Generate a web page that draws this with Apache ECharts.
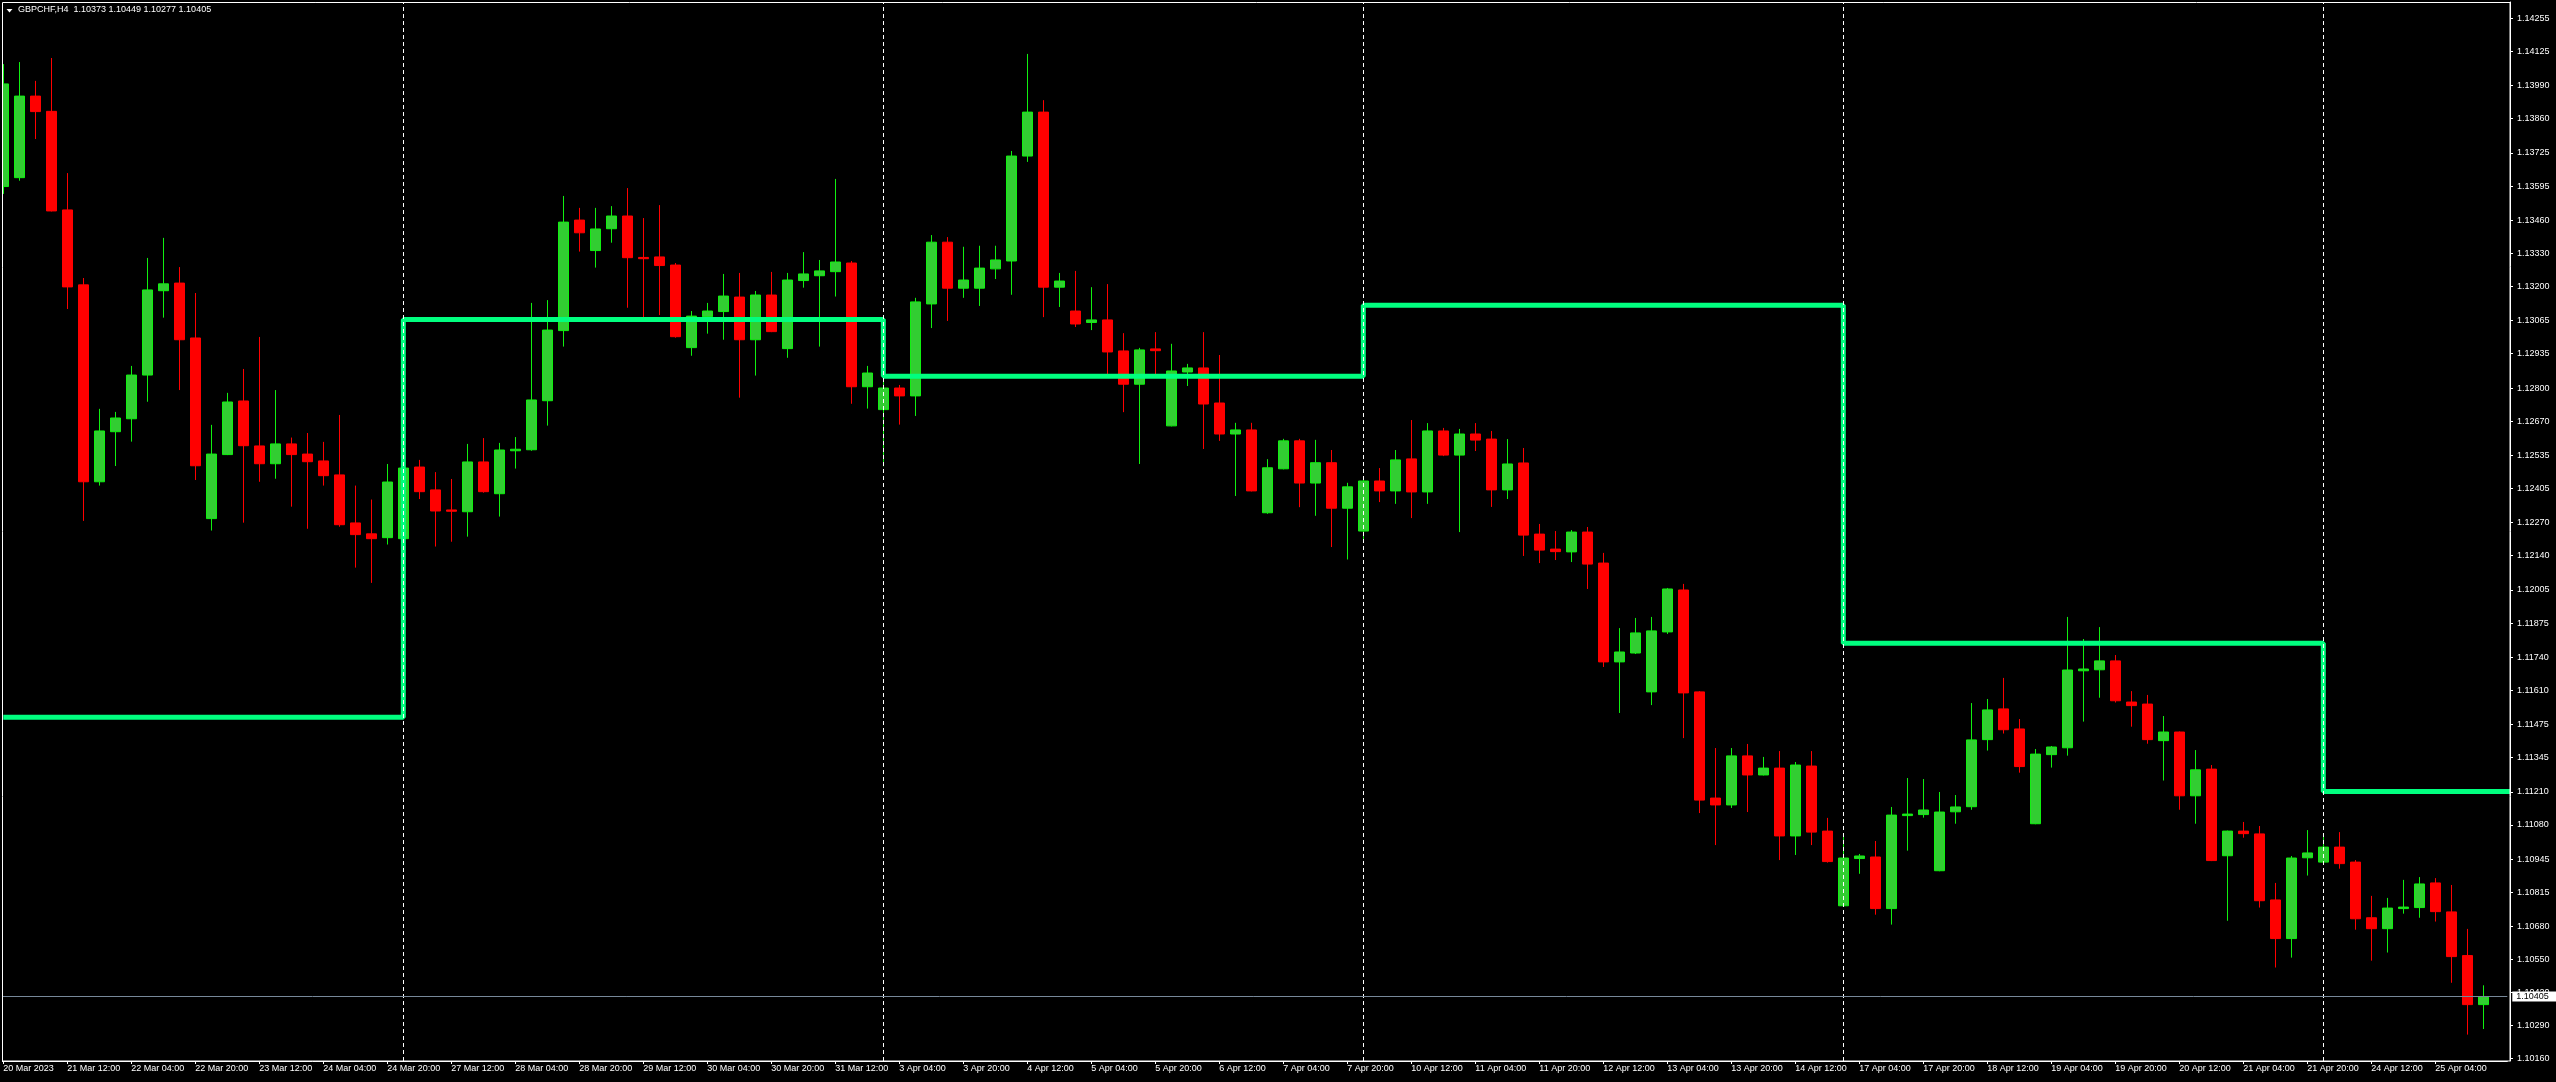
<!DOCTYPE html>
<html><head><meta charset="utf-8">
<script src="https://cdn.jsdelivr.net/npm/echarts@6/dist/echarts.min.js"></script>
<style>html,body{margin:0;padding:0;background:#000;}#c{width:2556px;height:1082px;}</style>
</head><body><div id="c"></div>
<script>
const symbolName = 'GBPCHF,H4';
const openV = [1.13593,1.13628,1.13949,1.13889,1.13501,1.13206,1.12431,1.12628,1.12679,1.12851,
1.13183,1.13213,1.12997,1.12286,1.12538,1.12749,1.12572,1.12502,1.12580,1.12540,
1.12513,1.12458,1.12269,1.12226,1.12211,1.12207,1.12489,1.12399,1.12320,1.12313,
1.12509,1.12384,1.12553,1.12557,1.12750,1.13026,1.13461,1.13341,1.13427,1.13477,
1.13314,1.13316,1.13284,1.12959,1.13081,1.13101,1.13158,1.12990,1.13166,1.12955,
1.13223,1.13242,1.13258,1.13292,1.12805,1.12715,1.12800,1.12769,1.13131,1.13374,
1.13193,1.13193,1.13269,1.13300,1.13713,1.13886,1.13197,1.13103,1.13058,1.13068,
1.12946,1.12815,1.12954,1.12651,1.12863,1.12879,1.12741,1.12619,1.12635,1.12309,
1.12482,1.12592,1.12426,1.12506,1.12327,1.12237,1.12434,1.12395,1.12521,1.12391,
1.12631,1.12536,1.12619,1.12599,1.12399,1.12505,1.12225,1.12166,1.12155,1.12233,
1.12111,1.11722,1.11757,1.11604,1.11840,1.12005,1.11604,1.11186,1.11159,1.11352,
1.11277,1.11304,1.11037,1.11312,1.11056,1.10762,1.10948,1.10954,1.10751,1.11117,
1.11121,1.10900,1.11132,1.11152,1.11416,1.11537,1.11458,1.11085,1.11357,1.11384,
1.11687,1.11691,1.11726,1.11564,1.11556,1.11412,1.11446,1.11195,1.11300,1.10959,
1.11056,1.11045,1.10785,1.10633,1.10951,1.10934,1.10993,1.10934,1.10715,1.10672,
1.10751,1.10755,1.10852,1.10738,1.10566,1.10373];
const highV = [1.14075,1.14083,1.14009,1.14099,1.13646,1.13233,1.12718,1.12706,1.12887,1.13312,
1.13391,1.13276,1.13174,1.12655,1.12781,1.12875,1.13001,1.12792,1.12605,1.12623,
1.12588,1.12694,1.12416,1.12361,1.12501,1.12548,1.12517,1.12469,1.12442,1.12580,
1.12603,1.12584,1.12607,1.13135,1.13146,1.13556,1.13509,1.13509,1.13516,1.13587,
1.13469,1.13520,1.13292,1.13103,1.13135,1.13249,1.13253,1.13182,1.13257,1.13253,
1.13335,1.13304,1.13623,1.13300,1.12887,1.12845,1.12812,1.13155,1.13402,1.13394,
1.13356,1.13360,1.13360,1.13733,1.14115,1.13933,1.13253,1.13261,1.13197,1.13209,
1.13016,1.12958,1.13020,1.12974,1.12895,1.13020,1.12930,1.12663,1.12663,1.12520,
1.12600,1.12600,1.12596,1.12556,1.12427,1.12451,1.12485,1.12556,1.12674,1.12662,
1.12643,1.12639,1.12662,1.12631,1.12599,1.12564,1.12265,1.12237,1.12241,1.12253,
1.12151,1.11855,1.11895,1.11899,1.12013,1.12029,1.11607,1.11383,1.11383,1.11399,
1.11348,1.11371,1.11328,1.11371,1.11108,1.11037,1.10966,1.11017,1.11151,1.11265,
1.11261,1.11210,1.11198,1.11560,1.11576,1.11659,1.11497,1.11379,1.11391,1.11899,
1.11812,1.11859,1.11749,1.11607,1.11592,1.11509,1.11448,1.11375,1.11316,1.11058,
1.11092,1.11076,1.10852,1.10958,1.11060,1.11045,1.11052,1.10942,1.10801,1.10793,
1.10864,1.10875,1.10871,1.10844,1.10671,1.10449];
const lowV = [1.13564,1.13616,1.13780,1.13495,1.13111,1.12277,1.12416,1.12493,1.12589,1.12746,
1.13077,1.12792,1.12438,1.12239,1.12536,1.12270,1.12431,1.12443,1.12333,1.12246,
1.12416,1.12254,1.12093,1.12033,1.12184,1.12097,1.12363,1.12176,1.12195,1.12215,
1.12388,1.12294,1.12483,1.12553,1.12652,1.12963,1.13337,1.13274,1.13372,1.13116,
1.13077,1.13087,1.12998,1.12927,1.13014,1.12990,1.12762,1.12849,1.13020,1.12919,
1.13195,1.12963,1.13160,1.12738,1.12719,1.12492,1.12656,1.12690,1.13036,1.13064,
1.13155,1.13123,1.13229,1.13167,1.13690,1.13079,1.13119,1.13040,1.13028,1.12846,
1.12705,1.12501,1.12851,1.12649,1.12808,1.12560,1.12592,1.12375,1.12393,1.12305,
1.12480,1.12331,1.12297,1.12174,1.12125,1.12191,1.12351,1.12344,1.12288,1.12344,
1.12532,1.12233,1.12552,1.12332,1.12363,1.12139,1.12111,1.12123,1.12115,1.12009,
1.11702,1.11521,1.11753,1.11552,1.11832,1.11422,1.11127,1.11001,1.11147,1.11131,
1.11275,1.10942,1.10962,1.11001,1.10932,1.10760,1.10888,1.10727,1.10688,1.10979,
1.11109,1.10898,1.11085,1.11140,1.11373,1.11440,1.11286,1.11083,1.11306,1.11353,
1.11487,1.11581,1.11562,1.11467,1.11400,1.11255,1.11140,1.11085,1.10938,1.10703,
1.11030,1.10755,1.10519,1.10558,1.10881,1.10930,1.10908,1.10668,1.10546,1.10578,
1.10731,1.10715,1.10700,1.10459,1.10255,1.10277];
const closeV = [1.13997,1.13949,1.13888,1.13497,1.13198,1.12431,1.12631,1.12682,1.12851,1.13186,
1.13210,1.12990,1.12494,1.12540,1.12745,1.12573,1.12502,1.12580,1.12538,1.12510,
1.12455,1.12262,1.12223,1.12207,1.12430,1.12485,1.12392,1.12316,1.12315,1.12509,
1.12392,1.12556,1.12559,1.12753,1.13028,1.13453,1.13411,1.13426,1.13477,1.13313,
1.13309,1.13282,1.13002,1.13083,1.13103,1.13162,1.12990,1.13166,1.13022,1.13225,
1.13249,1.13261,1.13296,1.12805,1.12859,1.12800,1.12769,1.13139,1.13374,1.13193,
1.13225,1.13272,1.13304,1.13713,1.13886,1.13197,1.13221,1.13052,1.13068,1.12942,
1.12815,1.12950,1.12947,1.12867,1.12879,1.12737,1.12619,1.12635,1.12395,1.12486,
1.12592,1.12426,1.12506,1.12327,1.12411,1.12434,1.12395,1.12517,1.12391,1.12631,
1.12536,1.12619,1.12595,1.12399,1.12501,1.12221,1.12162,1.12156,1.12233,1.12107,
1.11722,1.11761,1.11836,1.11844,1.12009,1.11600,1.11178,1.11159,1.11352,1.11277,
1.11304,1.11037,1.11316,1.11052,1.10936,1.10950,1.10958,1.10751,1.11119,1.11123,
1.11139,1.11131,1.11151,1.11415,1.11533,1.11455,1.11310,1.11359,1.11387,1.11690,
1.11694,1.11726,1.11569,1.11550,1.11416,1.11446,1.11195,1.11297,1.10940,1.11056,
1.11046,1.10782,1.10633,1.10950,1.10970,1.10993,1.10928,1.10711,1.10672,1.10753,
1.10757,1.10848,1.10739,1.10562,1.10373,1.10405];

const weekLevels = [1.11504, 1.13070, 1.12846, 1.13126, 1.11795, 1.11212];
const weekStartBars = [0, 25, 55, 85, 115, 145];

const tradingDays = ['20 Mar','21 Mar','22 Mar','23 Mar','24 Mar','27 Mar','28 Mar','29 Mar','30 Mar','31 Mar',
'3 Apr','4 Apr','5 Apr','6 Apr','7 Apr','10 Apr','11 Apr','12 Apr','13 Apr','14 Apr',
'17 Apr','18 Apr','19 Apr','20 Apr','21 Apr','24 Apr','25 Apr'];
const h4Hours = ['00:00','04:00','08:00','12:00','16:00','20:00'];

const xTickLabels = ['20 Mar 2023','21 Mar 12:00','22 Mar 04:00','22 Mar 20:00','23 Mar 12:00','24 Mar 04:00','24 Mar 20:00',
'27 Mar 12:00','28 Mar 04:00','28 Mar 20:00','29 Mar 12:00','30 Mar 04:00','30 Mar 20:00','31 Mar 12:00',
'3 Apr 04:00','3 Apr 20:00','4 Apr 12:00','5 Apr 04:00','5 Apr 20:00','6 Apr 12:00','7 Apr 04:00','7 Apr 20:00',
'10 Apr 12:00','11 Apr 04:00','11 Apr 20:00','12 Apr 12:00','13 Apr 04:00','13 Apr 20:00','14 Apr 12:00',
'17 Apr 04:00','17 Apr 20:00','18 Apr 12:00','19 Apr 04:00','19 Apr 20:00','20 Apr 12:00','21 Apr 04:00','21 Apr 20:00',
'24 Apr 12:00','25 Apr 04:00'];

const yTickValues = [1.10160,1.10290,1.10420,1.10550,1.10680,1.10815,1.10945,1.11080,1.11210,1.11345,
1.11475,1.11610,1.11740,1.11875,1.12005,1.12140,1.12270,1.12405,1.12535,1.12670,
1.12800,1.12935,1.13065,1.13200,1.13330,1.13460,1.13595,1.13725,1.13860,1.13990,
1.14125,1.14255];

// ---- build structures ----
const FONT = '"Liberation Sans", Arial, sans-serif';
const allTimes = [];
tradingDays.forEach(d => h4Hours.forEach(h => allTimes.push(d + ' ' + h)));
const nBars = openV.length;
const categories = allTimes.slice(5, 5 + nBars);
categories.push(' ');   // chart shift space on the right

const candleData = openV.map((o, i) => [o, closeV[i], lowV[i], highV[i]]);

const levelData = [];
for (let i = 0; i <= nBars + 1; i++) {
  let w = 0;
  for (let k = 0; k < weekStartBars.length; k++) if (i >= weekStartBars[k]) w = k;
  levelData.push([i, weekLevels[w]]);
}

const lastClose = closeV[nBars - 1];
const titleText = symbolName + '  ' + [openV[nBars-1], highV[nBars-1], lowV[nBars-1], lastClose].map(v => v.toFixed(5)).join(' ');

const chart = echarts.init(document.getElementById('c'), null, {renderer: 'canvas'});
chart.setOption({
  backgroundColor: '#000000',
  animation: false,
  grid: { left: -4.7, top: 2, width: 2512, height: 1059, containLabel: false, outerBoundsMode: 'none' },
  xAxis: {
    type: 'category',
    data: categories,
    boundaryGap: true,
    axisLine: { show: true, lineStyle: { color: '#ffffff', width: 1 } },
    axisTick: { show: true, alignWithLabel: true, length: 3,
      interval: (i) => i % 4 === 0 && i <= 152,
      lineStyle: { color: '#ffffff' } },
    axisLabel: { interval: 3, formatter: (v, i) => xTickLabels[i / 4] || '',
      color: '#ffffff', fontSize: 9, fontFamily: FONT, margin: 3, align: 'left' },
    splitLine: { show: false }
  },
  yAxis: {
    type: 'value', position: 'right', offset: 2.7, scale: true,
    min: 1.101511, max: 1.143194,
    axisLine: { show: true, lineStyle: { color: '#ffffff', width: 1 } },
    axisTick: { show: true, length: 3, customValues: yTickValues, lineStyle: { color: '#ffffff' } },
    axisLabel: { customValues: yTickValues, formatter: v => v.toFixed(5),
      color: '#ffffff', fontSize: 9, fontFamily: FONT, margin: 7 },
    splitLine: { show: false }
  },
  series: [
    {
      type: 'line', z: 1, data: [], silent: true,
      markLine: {
        silent: true, symbol: ['none', 'none'], animation: false, precision: 5,
        label: { show: false },
        lineStyle: { color: '#ffffff', width: 1, type: [4, 3] },
        data: weekStartBars.slice(1).map(b => ({ xAxis: categories[b] })).concat([
          { yAxis: lastClose,
            lineStyle: { color: '#778899', width: 1, type: 'solid' },
            label: { show: true, position: 'end', distance: 5,
              formatter: lastClose.toFixed(5), color: '#000000', backgroundColor: '#ffffff',
              fontSize: 9, fontFamily: FONT, lineHeight: 10, padding: [0, 8, 0, 4] } }
        ])
      }
    },
    {
      type: 'candlestick', z: 2, data: candleData, barWidth: 10,
      itemStyle: { color: '#32cd32', color0: '#ff0000', borderColor: '#10f010', borderColor0: '#ff0000', borderWidth: 1 }
    },
    {
      type: 'line', z: 3, step: 'end', data: levelData, symbol: 'none', clip: true,
      lineStyle: { color: '#00ff7f', width: 5 }
    }
  ],
  graphic: [
    { type: 'rect', z: 50, shape: { x: 0, y: 0, width: 2, height: 1082 }, style: { fill: '#000000' } },
    { type: 'rect', z: 50, shape: { x: 2.5, y: 2.5, width: 2507.5, height: 1058.5 }, style: { fill: null, stroke: '#ffffff', lineWidth: 1 } },
    { type: 'polygon', z: 60, shape: { points: [[6.5, 9], [12.5, 9], [9.5, 12.5]] }, style: { fill: '#ffffff' } },
    { type: 'text', z: 60, x: 18, y: 5, style: { text: titleText, fill: '#ffffff', font: '9px "Liberation Sans", Arial, sans-serif', verticalAlign: 'top' } }
  ]
});
</script>
</body></html>
